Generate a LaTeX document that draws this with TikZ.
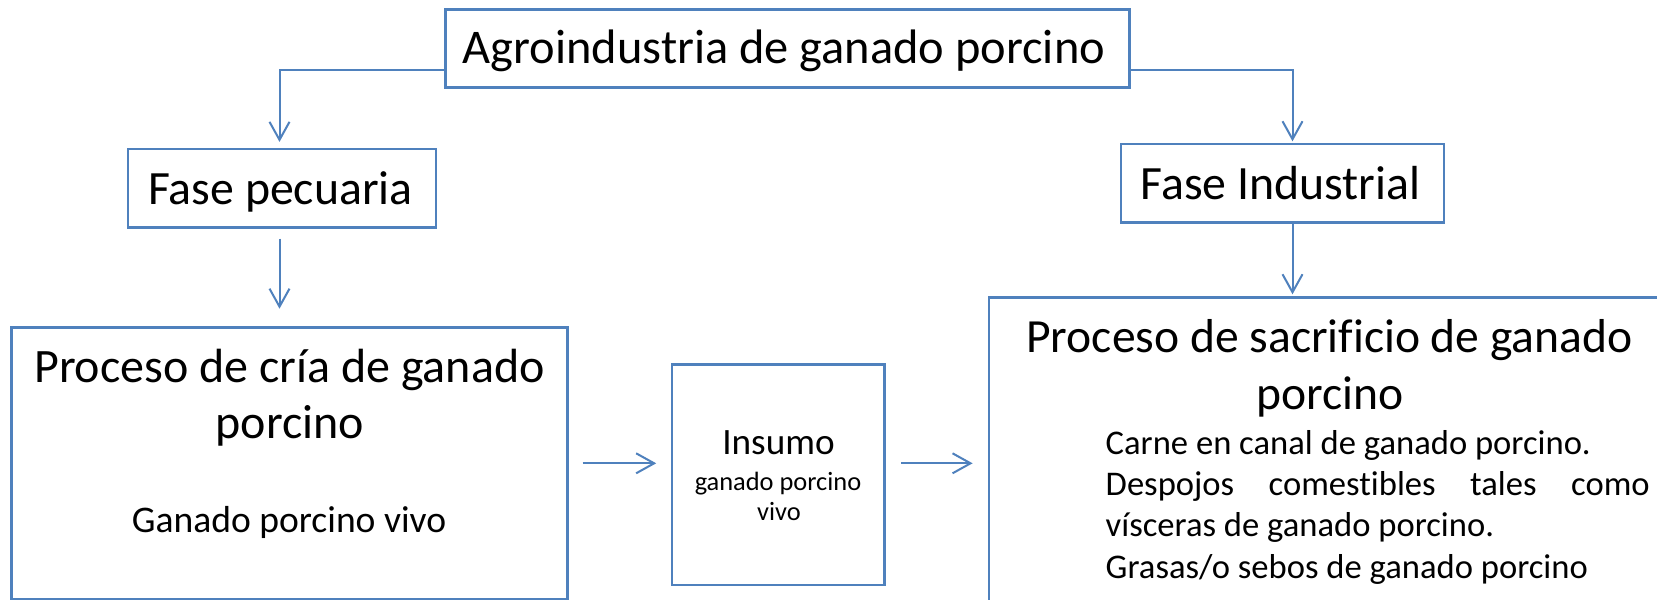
\documentclass[tikz,border=0pt]{standalone}
\usepackage{fontspec}
\setmainfont[Ligatures={NoCommon}]{Carlito}
\usetikzlibrary{arrows.meta,calc}
\definecolor{boxblue}{RGB}{79,129,189}
\newcommand\fsz[1]{\fontsize{#1}{#1}\selectfont}
\tikzset{
  boxnode/.style={draw=boxblue, line width=1.4pt, inner sep=0pt, fill=none},
  arr/.style={draw=boxblue, line width=1pt, -{Straight Barb[length=9pt,width=10pt]}},
  txt/.style={anchor=base, inner sep=0pt, text=black}
}
\begin{document}
\begin{tikzpicture}[x=0.5pt,y=-0.5pt]
\useasboundingbox (0,0) rectangle (1657,599);
\clip (0,0) rectangle (1657,599);
\fill[white] (0,0) rectangle (1657,599);
% boxes
\node[boxnode, minimum width=342pt, minimum height=39.2pt] (top) at (787.6,48.5) {};
\node[boxnode, minimum width=154pt, minimum height=39.3pt] (pec) at (282,188.3) {};
\node[boxnode, minimum width=161.5pt, minimum height=39.3pt] (ind) at (1282.5,183.3) {};
\node[boxnode, minimum width=278pt, minimum height=135.6pt] (cria) at (289.5,463.3) {};
\node[boxnode, minimum width=106.2pt, minimum height=110.3pt] (ins) at (778.2,474.7) {};
\node[boxnode, minimum width=341pt, minimum height=165.6pt] (sac) at (1330,463.3) {};
% texts
\node[txt] (ttop) at (784,63.3) {\fsz{24.2pt}Agroindustria de ganado porcino};
\node[txt] (tpec) at (280.5,204) {\fsz{23.9pt}Fase pecuaria};
\node[txt] (tind) at (1280.5,199.3) {\fsz{23.9pt}Fase Industrial};
\node[txt] (tcria1) at (289.4,382.7) {\fsz{24pt}Proceso de cría de ganado};
\node[txt] (tcria2) at (289.8,438.3) {\fsz{24pt}porcino};
\node[txt] (tcria3) at (289,532.3) {\fsz{18.8pt}Ganado porcino vivo};
\node[txt] (tins1) at (778.5,454) {\fsz{18.6pt}Insumo};
\node[txt] (tins2) at (778,490.7) {\fsz{13.2pt}ganado porcino};
\node[txt] (tins3) at (779,520) {\fsz{13.2pt}vivo};
\node[txt] (tsac1) at (1329.5,352.7) {\fsz{23.8pt}Proceso de sacrificio de ganado};
\node[txt] (tsac2) at (1330,409.3) {\fsz{23.8pt}porcino};
\node[txt, anchor=base west] (b1) at (1105.3,454) {\fsz{17.3pt}Carne en canal de ganado porcino.};
\node[txt, anchor=base west] (b2) at (1105.3,495.3) {\fsz{17.3pt}\makebox[272pt][s]{Despojos comestibles tales como}};
\node[txt, anchor=base west] (b3) at (1105.3,536.7) {\fsz{17.3pt}vísceras de ganado porcino.};
\node[txt, anchor=base west] (b4) at (1105.3,578.3) {\fsz{17.3pt}Grasas/o sebos de ganado porcino};
% connectors
\coordinate (tl) at ($(top.west)+(0,21.5)$);
\coordinate (tr) at ($(top.east)+(-2.5,21.5)$);
\coordinate (pecin) at ($(pec.north)+(-2.5,-5.7)$);
\coordinate (indin) at ($(ind.north)+(10,-1.3)$);
\draw[arr] (tl) -| (pecin);
\draw[arr] (tr) -| (indin);
\draw[arr, shorten <=4.8pt, shorten >=8.8pt] (pec.south -| pecin) -- (cria.north -| pecin);
\draw[arr, shorten >=1pt] (ind.south -| indin) -- (sac.north -| indin);
\draw[arr, shorten <=6.8pt, shorten >=7.2pt] (cria.east) -- (ins.west |- cria.east);
\draw[arr, shorten <=7.8pt, shorten >=7.5pt] (ins.east |- cria.east) -- (sac.west);
\end{tikzpicture}
\end{document}
